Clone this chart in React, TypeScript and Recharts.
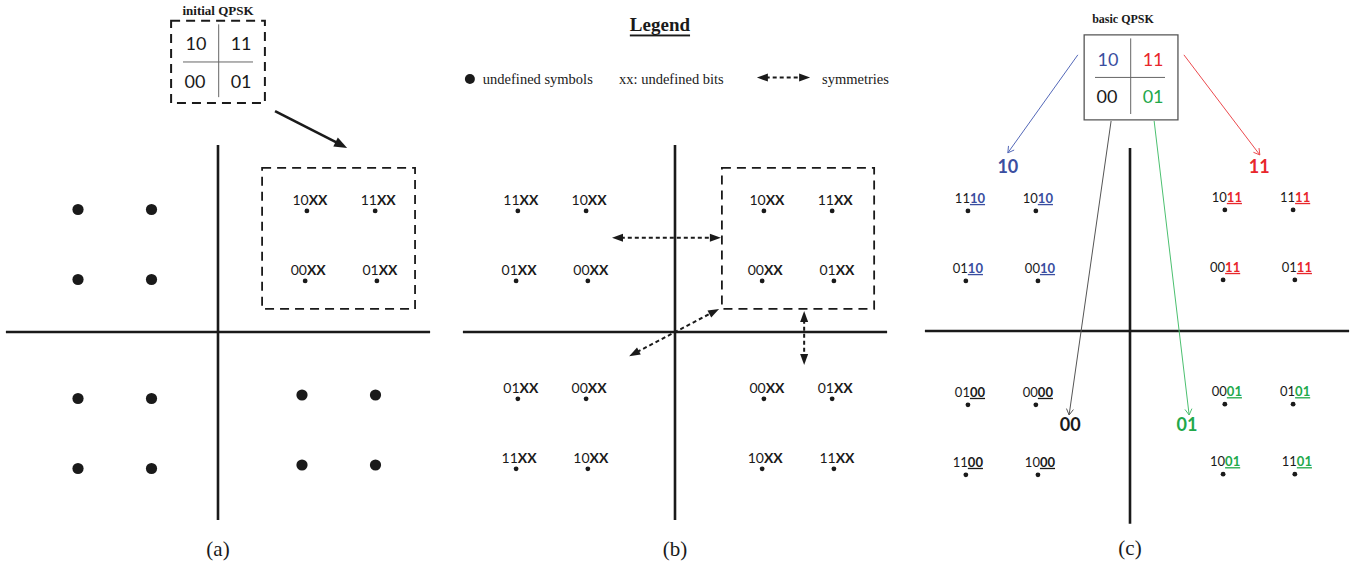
import React from "react";
import {
  ScatterChart,
  Scatter,
  XAxis,
  YAxis,
  ReferenceLine,
  ReferenceArea,
  ReferenceDot,
} from "recharts";

// one constellation unit = 35px on screen
const PX = 35;
const W = 440;
const H = 565;
const ORIGIN_X = 218;

const BLUE = "#3a4ea0";
const RED = "#e8262b";
const GREEN = "#22a84a";
const INK = "#1a1a1a";
const SANS = "Lato, 'Open Sans', sans-serif";
const SERIF = "'Liberation Serif', 'DejaVu Serif', serif";

// ---- data ----
const qpskBits = ["10", "11", "00", "01"];
const qpskSpots = [
  { x: -0.63, y: 1 },
  { x: 0.66, y: 1 },
  { x: -0.66, y: 0 },
  { x: 0.66, y: 0 },
];

// (a) undefined symbols (big dots)
const symbolsA = [
  { x: -4.0, y: 3.5 }, { x: -1.9, y: 3.5 }, { x: -4.0, y: 1.5 }, { x: -1.9, y: 1.5 },
  { x: -4.0, y: -1.9 }, { x: -1.9, y: -1.9 }, { x: -4.0, y: -3.9 }, { x: -1.9, y: -3.9 },
  { x: 2.4, y: -1.8 }, { x: 4.5, y: -1.8 }, { x: 2.4, y: -3.8 }, { x: 4.5, y: -3.8 },
];
// (a) first quadrant tagged with QPSK bits
const taggedA = [
  { x: 2.54, y: 3.46, bits: "10" },
  { x: 4.49, y: 3.46, bits: "11" },
  { x: 2.49, y: 1.46, bits: "00" },
  { x: 4.54, y: 1.46, bits: "01" },
];

// (b) every quadrant tagged by symmetry
const taggedB = [
  { x: -4.49, y: 3.46, bits: "11" }, { x: -2.54, y: 3.46, bits: "10" },
  { x: -4.54, y: 1.46, bits: "01" }, { x: -2.49, y: 1.46, bits: "00" },
  { x: 2.54, y: 3.46, bits: "10" }, { x: 4.49, y: 3.46, bits: "11" },
  { x: 2.49, y: 1.46, bits: "00" }, { x: 4.54, y: 1.46, bits: "01" },
  { x: -4.49, y: -1.91, bits: "01" }, { x: -2.54, y: -1.91, bits: "00" },
  { x: -4.54, y: -3.91, bits: "11" }, { x: -2.49, y: -3.91, bits: "10" },
  { x: 2.54, y: -1.91, bits: "00" }, { x: 4.49, y: -1.91, bits: "01" },
  { x: 2.49, y: -3.91, bits: "10" }, { x: 4.54, y: -3.91, bits: "11" },
];

// (c) full 16-QAM labels: prefix + quadrant bits
const taggedC = [
  { x: -4.63, y: 3.43, pre: "11", quad: "10" }, { x: -2.69, y: 3.43, pre: "10", quad: "10" },
  { x: -4.69, y: 1.43, pre: "01", quad: "10" }, { x: -2.63, y: 1.43, pre: "00", quad: "10" },
  { x: 2.71, y: 3.46, pre: "10", quad: "11" }, { x: 4.66, y: 3.46, pre: "11", quad: "11" },
  { x: 2.66, y: 1.46, pre: "00", quad: "11" }, { x: 4.71, y: 1.46, pre: "01", quad: "11" },
  { x: -4.63, y: -2.11, pre: "01", quad: "00" }, { x: -2.69, y: -2.11, pre: "00", quad: "00" },
  { x: -4.69, y: -4.11, pre: "11", quad: "00" }, { x: -2.63, y: -4.11, pre: "10", quad: "00" },
  { x: 2.71, y: -2.09, pre: "00", quad: "01" }, { x: 4.66, y: -2.09, pre: "01", quad: "01" },
  { x: 2.66, y: -4.09, pre: "10", quad: "01" }, { x: 4.71, y: -4.09, pre: "11", quad: "01" },
];
const quadColor: Record<string, string> = { "10": BLUE, "11": RED, "00": INK, "01": GREEN };
const fanColor: Record<string, string> = { "10": "#5468b8", "11": "#ec4a4e", "00": "#555", "01": "#4cc070" };

// (c) arrows from the basic QPSK box to each quadrant tag
const fanC = [
  { bits: "10", from: { x: -1.49, y: 7.89 }, to: { x: -3.49, y: 5.09 }, tag: { x: -3.49, y: 4.71 } },
  { bits: "11", from: { x: 1.54, y: 7.89 }, to: { x: 3.71, y: 5.03 }, tag: { x: 3.69, y: 4.71 } },
  { bits: "00", from: { x: -0.54, y: 6.0 }, to: { x: -1.74, y: -2.4 }, tag: { x: -1.71, y: -2.66 } },
  { bits: "01", from: { x: 0.69, y: 6.0 }, to: { x: 1.69, y: -2.4 }, tag: { x: 1.63, y: -2.66 } },
];

// (b) symmetry arrows
const symmetriesB = [
  [{ x: -1.8, y: 2.69 }, { x: 1.31, y: 2.69 }],
  [{ x: -1.31, y: -0.69 }, { x: 1.26, y: 0.66 }],
  [{ x: 3.69, y: 0.6 }, { x: 3.69, y: -0.94 }],
];

// ---- drawing helpers ----
const arrowShape =
  (color: string, width: number, opts: { dash?: string; both?: boolean; len: number; wid: number; open?: boolean }) =>
  (p: any) => {
    const { x1, y1, x2, y2 } = p;
    const dx = x2 - x1;
    const dy = y2 - y1;
    const l = Math.hypot(dx, dy) || 1;
    const ux = dx / l;
    const uy = dy / l;
    const head = (tx: number, ty: number, vx: number, vy: number, k: string) => {
      const bx = tx - vx * opts.len;
      const by = ty - vy * opts.len;
      const px = (-vy * opts.wid) / 2;
      const py = (vx * opts.wid) / 2;
      const pts = `${bx + px},${by + py} ${tx},${ty} ${bx - px},${by - py}`;
      return opts.open ? (
        <polyline key={k} points={pts} fill="none" stroke={color} strokeWidth={width} />
      ) : (
        <polygon key={k} points={pts} fill={color} />
      );
    };
    const cut = opts.open ? 0 : opts.len * 0.8;
    const sx = opts.both ? x1 + ux * cut : x1;
    const sy = opts.both ? y1 + uy * cut : y1;
    return (
      <g>
        <line x1={sx} y1={sy} x2={x2 - ux * cut} y2={y2 - uy * cut} stroke={color} strokeWidth={width} strokeDasharray={opts.dash} />
        {head(x2, y2, ux, uy, "e")}
        {opts.both ? head(x1, y1, -ux, -uy, "s") : null}
      </g>
    );
  };

const seg = (key: string, a: { x: number; y: number }, b: { x: number; y: number }, props: any) => (
  <ReferenceLine key={key} segment={[a, b]} ifOverflow="visible" {...props} />
);

const note = (key: string, x: number, y: number, draw: (cx: number, cy: number) => React.ReactElement) => (
  <ReferenceDot key={key} x={x} y={y} r={0} ifOverflow="visible" shape={(p: any) => draw(p.cx, p.cy)} />
);

const axes = (id: string, xr: [number, number], yr: [number, number]) => [
  seg(id + "h", { x: xr[0], y: 0 }, { x: xr[1], y: 0 }, { stroke: INK, strokeWidth: 2.6 }),
  seg(id + "v", { x: 0, y: yr[0] }, { x: 0, y: yr[1] }, { stroke: INK, strokeWidth: 2.6 }),
];

// little QPSK diagram drawn above a constellation
const qpskBox = (id: string, box: { x1: number; x2: number; y1: number; y2: number }, dashed: boolean, colored: boolean) => {
  const midY = (box.y1 + box.y2) / 2;
  const cellH = 0.97;
  return [
    <ReferenceArea
      key={id + "box"}
      x1={box.x1}
      x2={box.x2}
      y1={box.y1}
      y2={box.y2}
      fill="#fff"
      fillOpacity={1}
      stroke={dashed ? INK : "#555"}
      strokeWidth={dashed ? 2 : 1.3}
      strokeDasharray={dashed ? "9 6" : undefined}
      ifOverflow="visible"
    />,
    seg(id + "ch", { x: -1.0, y: midY }, { x: 1.0, y: midY }, { stroke: "#666", strokeWidth: 1 }),
    seg(id + "cv", { x: 0.02, y: box.y2 - 0.1 }, { x: 0.02, y: box.y1 + 0.17 }, { stroke: "#666", strokeWidth: 1 }),
    ...qpskBits.map((b, i) =>
      note(id + "q" + i, qpskSpots[i].x, midY + (qpskSpots[i].y ? cellH / 2 + 0.05 : -cellH / 2 - 0.05), (cx, cy) => (
        <text x={cx} y={cy} textAnchor="middle" dominantBaseline="central" fontFamily={SANS} fontSize={18} fill={colored ? quadColor[b] : INK}>
          {b}
        </text>
      ))
    ),
  ];
};

const TaggedXX = (p: any) => (
  <g>
    <circle cx={p.cx} cy={p.cy} r={2.4} fill={INK} />
    <text x={p.cx + 3} y={p.cy - 6} textAnchor="middle" fontFamily={SANS} fontSize={14} fill={INK}>
      {p.payload.bits}
      <tspan fontWeight="bold">XX</tspan>
    </text>
  </g>
);

const TaggedFull = (p: any) => (
  <g>
    <circle cx={p.cx} cy={p.cy} r={2.4} fill={INK} />
    <text x={p.cx + 2} y={p.cy - 8} textAnchor="middle" fontFamily={SANS} fontSize={13} fill={INK}>
      {p.payload.pre}
      <tspan fontWeight="bold" fill={quadColor[p.payload.quad]} textDecoration="underline">
        {p.payload.quad}
      </tspan>
    </text>
  </g>
);

const BigDot = (p: any) => <circle cx={p.cx} cy={p.cy} r={5.6} fill={INK} />;

function Plane({ left, cy, children }: { left: number; cy: number; children: React.ReactNode }) {
  return (
    <div style={{ position: "absolute", left, top: 0, width: W, height: H }}>
      <ScatterChart width={W} height={H} margin={{ top: 0, right: 0, bottom: 0, left: 0 }}>
        <XAxis type="number" dataKey="x" hide domain={[-ORIGIN_X / PX, (W - ORIGIN_X) / PX]} allowDataOverflow />
        <YAxis type="number" dataKey="y" hide domain={[-(H - cy) / PX, cy / PX]} allowDataOverflow />
        {children}
      </ScatterChart>
    </div>
  );
}

const caption = (id: string, s: string) =>
  note(id + "cap", 0, -6.2, (cx, cy) => (
    <text x={cx} y={cy} textAnchor="middle" dominantBaseline="central" fontFamily={SERIF} fontSize={21} fill={INK}>
      {s}
    </text>
  ));

const legendText = (key: string, x: number, s: string) =>
  note(key, x, 7.23, (cx, cy) => (
    <text x={cx} y={cy} dominantBaseline="central" fontFamily={SERIF} fontSize={14.5} fill={INK}>
      {s}
    </text>
  ));

export default function App() {
  return (
    <div style={{ position: "absolute", left: 0, top: 0, width: 1355, height: 565, background: "#fff" }}>
      {/* (a) */}
      <Plane left={0} cy={332}>
        {[
          ...axes("a", [-6.06, 6.06], [-5.37, 5.34]),
          <ReferenceArea key="abox" x1={1.26} x2={5.63} y1={0.66} y2={4.69} fill="none" stroke={INK} strokeWidth={1.8} strokeDasharray="9 6" ifOverflow="visible" />,
          ...qpskBox("a", { x1: -1.34, x2: 1.34, y1: 6.54, y2: 8.89 }, true, false),
          note("atitle", 0, 9.2, (cx, cy) => (
            <text x={cx} y={cy} textAnchor="middle" dominantBaseline="central" fontFamily={SERIF} fontWeight="bold" fontSize={13} fill={INK}>
              initial QPSK
            </text>
          )),
          seg("aarrow", { x: 1.63, y: 6.31 }, { x: 3.69, y: 5.26 }, {
            stroke: INK,
            shape: arrowShape(INK, 2.6, { len: 13, wid: 10 }),
          }),
          <Scatter key="asym" data={symbolsA} shape={BigDot} isAnimationActive={false} />,
          <Scatter key="atag" data={taggedA} shape={TaggedXX} isAnimationActive={false} />,
          caption("a", "(a)"),
        ]}
      </Plane>

      {/* (b) */}
      <Plane left={457} cy={332}>
        {[
          ...axes("b", [-6.06, 6.06], [-5.37, 5.34]),
          <ReferenceArea key="bbox" x1={1.34} x2={5.69} y1={0.66} y2={4.69} fill="none" stroke={INK} strokeWidth={1.8} strokeDasharray="9 6" ifOverflow="visible" />,
          ...symmetriesB.map((s, i) =>
            seg("bsym" + i, s[0], s[1], {
              stroke: INK,
              shape: arrowShape(INK, 2, { dash: "4 3", both: true, len: 11, wid: 8 }),
            })
          ),
          note("blegend", -0.43, 8.8, (cx, cy) => (
            <text x={cx} y={cy} textAnchor="middle" dominantBaseline="central" fontFamily={SERIF} fontWeight="bold" fontSize={19} fill={INK} textDecoration="underline">
              Legend
            </text>
          )),
          note("bl1", -5.86, 7.23, (cx, cy) => <circle cx={cx} cy={cy} r={5} fill={INK} />),
          legendText("bl2", -5.49, "undefined symbols"),
          legendText("bl3", -1.6, "xx: undefined bits"),
          seg("bl4", { x: 2.34, y: 7.27 }, { x: 3.86, y: 7.27 }, {
            stroke: INK,
            shape: arrowShape(INK, 2, { dash: "4 3", both: true, len: 11, wid: 8 }),
          }),
          legendText("bl5", 4.2, "symmetries"),
          <Scatter key="btag" data={taggedB} shape={TaggedXX} isAnimationActive={false} />,
          caption("b", "(b)"),
        ]}
      </Plane>

      {/* (c) */}
      <Plane left={912} cy={331}>
        {[
          ...axes("c", [-5.86, 6.26], [-5.51, 5.23]),
          ...fanC.map((f) =>
            seg("cfan" + f.bits, f.from, f.to, {
              stroke: fanColor[f.bits],
              shape: arrowShape(fanColor[f.bits], 1, { len: 6, wid: 7, open: true }),
            })
          ),
          ...fanC.map((f) =>
            note("ctag" + f.bits, f.tag.x, f.tag.y, (cx, cy) => (
              <text x={cx} y={cy} textAnchor="middle" dominantBaseline="central" fontFamily={SANS} fontWeight="bold" fontSize={18} fill={quadColor[f.bits]}>
                {f.bits}
              </text>
            ))
          ),
          ...qpskBox("c", { x1: -1.31, x2: 1.37, y1: 6.03, y2: 8.46 }, false, true),
          note("ctitle", -0.2, 8.91, (cx, cy) => (
            <text x={cx} y={cy} textAnchor="middle" dominantBaseline="central" fontFamily={SERIF} fontWeight="bold" fontSize={12} fill={INK}>
              basic QPSK
            </text>
          )),
          <Scatter key="ctag" data={taggedC} shape={TaggedFull} isAnimationActive={false} />,
          caption("c", "(c)"),
        ]}
      </Plane>
    </div>
  );
}
